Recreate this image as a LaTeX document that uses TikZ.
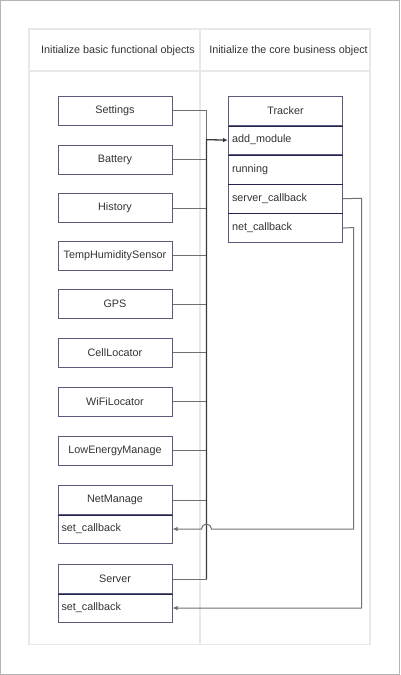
\documentclass[tikz,border=0pt]{standalone}
\usepackage{fontspec}
\setmainfont{Liberation Sans}
\usetikzlibrary{arrows.meta}
\definecolor{framegray}{HTML}{B4B4B4}
\definecolor{lanegray}{HTML}{E8E8E8}
\definecolor{boxborder}{HTML}{5A5A7C}
\definecolor{divcol}{HTML}{23234F}
\definecolor{wirecol}{HTML}{707070}
\definecolor{trunkcol}{HTML}{3A3A3A}
\definecolor{txt}{HTML}{333333}
\begin{document}
\begin{tikzpicture}[x=1pt,y=-1pt,
  font=\fontsize{10.8}{13}\selectfont, text=txt,
  objbox/.style={draw=boxborder, line width=1pt, fill=white, minimum width=114pt,
    minimum height=29pt, inner sep=0pt, anchor=north west},
  rowbox/.style={objbox, minimum height=29.3pt, text width=107pt, align=left, inner xsep=3.5pt},
  cbbox/.style={objbox, text width=107pt, align=left, inner xsep=3.5pt},
  divider/.style={draw=divcol, line width=1pt},
  wire/.style={draw=wirecol, line width=1pt},
  arrowwire/.style={wire, -{Latex[length=5pt,width=4.5pt]}},
  trunkwire/.style={draw=trunkcol, line width=1.3pt, -{Latex[length=5pt,width=4.5pt]}},
  lane/.style={draw=lanegray, line width=1.5pt},
  header/.style={inner sep=0pt, anchor=center}
]
\useasboundingbox (0,0) rectangle (400,675);
\draw[framegray, line width=1pt] (0.5,0.5) rectangle (399.5,674.5);

% swimlanes
\draw[lane] (29,29) rectangle (370,644.5);
\draw[lane] (29,71) -- (370,71);
\draw[lane] (200,29) -- (200,644.5);
\node[header] (h1) at (118,51) {Initialize basic functional objects};
\node[header] (h2) at (288.5,51) {Initialize the core business object};

% left boxes
\node[objbox] (settings) at (57.5,95.5) {Settings};
\node[objbox] (battery) at (57.5,144.5) {Battery};
\node[objbox] (history) at (57.5,193) {History};
\node[objbox] (temp) at (57.5,240.5) {TempHumiditySensor};
\node[objbox] (gps) at (57.5,289) {GPS};
\node[objbox] (cell) at (57.5,337.5) {CellLocator};
\node[objbox] (wifi) at (57.5,386.5) {WiFiLocator};
\node[objbox] (lem) at (57.5,435.5) {LowEnergyManage};
\node[objbox] (net) at (57.5,485) {NetManage};
\node[cbbox] (netcb) at (57.5,514) {set\_callback};
\node[objbox] (server) at (57.5,564) {Server};
\node[cbbox] (servercb) at (57.5,593) {set\_callback};
\draw[divider] (net.south west) -- (net.south east);
\draw[divider] (server.south west) -- (server.south east);

% tracker
\node[objbox, minimum height=29.3pt] (tracker) at (228,95.7) {Tracker};
\node[rowbox] (add) at (228,125) {add\_module};
\node[rowbox] (running) at (228,154.3) {running};
\node[rowbox] (scb) at (228,183.6) {server\_callback};
\node[rowbox] (ncb) at (228,212.9) {net\_callback};
\draw[divider] (tracker.south west) -- (tracker.south east);
\draw[divider] (add.south west) -- (add.south east);
\draw[divider] (running.south west) -- (running.south east);
\draw[divider] (scb.south west) -- (scb.south east);

% trunk
\coordinate (trunk) at (206.5,139.65);
\foreach \n in {settings,battery,history,temp,gps,cell,wifi,lem,net,server}{
  \draw[wire] (\n.east) -| (trunk);
}
\draw[trunkwire] (trunk |- server.east) -- (trunk) -- (add.west);

% callbacks
\coordinate (scbturn) at (361.5,198.25);
\draw[arrowwire] (scb.east) -- (scbturn) |- (servercb.east);
\coordinate (ncbturn) at (353.5,227.55);
\coordinate (hopR) at ([xshift=5pt]trunk |- netcb.east);
\draw[arrowwire] (ncb.east) -- (ncbturn) |- (hopR)
  arc[start angle=0, end angle=-180, radius=5] -- (netcb.east);
\end{tikzpicture}
\end{document}
